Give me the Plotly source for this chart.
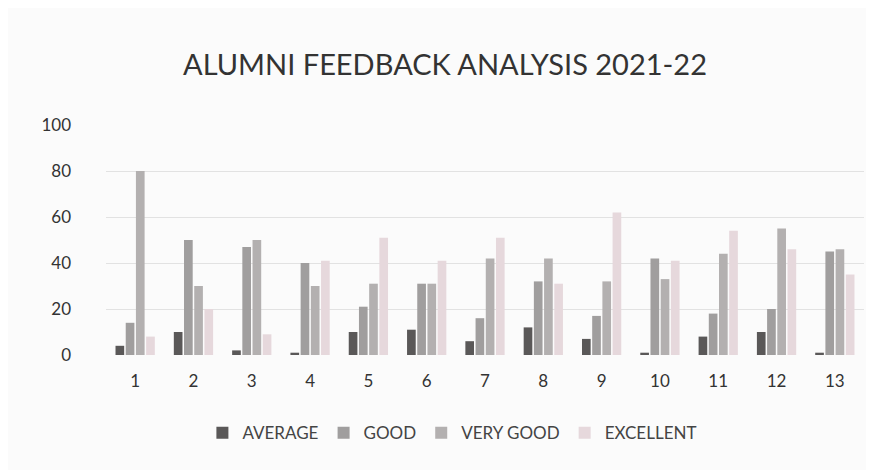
import plotly.graph_objects as go

categories = ["1", "2", "3", "4", "5", "6", "7", "8", "9", "10", "11", "12", "13"]
average = [4, 10, 2, 1, 10, 11, 6, 12, 7, 1, 8, 10, 1]
good = [14, 50, 47, 40, 21, 31, 16, 32, 17, 42, 18, 20, 45]
very_good = [80, 30, 50, 30, 31, 31, 42, 42, 32, 33, 44, 55, 46]
excellent = [8, 20, 9, 41, 51, 41, 51, 31, 62, 41, 54, 46, 35]

series = [
    ("AVERAGE", average, "#5a5858"),
    ("GOOD", good, "#a09e9e"),
    ("VERY GOOD", very_good, "#b3b0b0"),
    ("EXCELLENT", excellent, "#e6d8dc"),
]

fig = go.Figure()
for name, vals, col in series:
    fig.add_trace(go.Bar(x=categories, y=vals, name=name, marker_color=col,
                         marker_line_width=0))

fig.update_layout(
    width=874, height=470,
    paper_bgcolor="#fbfbfb", plot_bgcolor="#fbfbfb",
    margin=dict(l=98, r=18, t=117, b=123),
    font=dict(family="Lato, Open Sans, sans-serif", color="#3a3a3a"),
    title=dict(text="ALUMNI FEEDBACK ANALYSIS 2021-22", x=0.5, xanchor="center",
               y=0.88, yanchor="middle", font=dict(size=29, color="#333333")),
    barmode="group", bargap=0.3, bargroupgap=0.15,
    legend=dict(orientation="h", x=0.457, xanchor="center", y=-0.34, yanchor="middle",
                font=dict(size=17, color="#444444"), itemwidth=30, traceorder="normal"),
    showlegend=True,
)
fig.update_xaxes(showgrid=False, showline=False, tickfont=dict(size=17, color="#333333"),
                 ticklabelstandoff=14)
fig.update_yaxes(range=[0, 100], dtick=20, gridcolor="#e2e2e2", zeroline=False,
                 tickfont=dict(size=17, color="#333333"), ticklabelstandoff=34)

fig.write_html("out.html")
